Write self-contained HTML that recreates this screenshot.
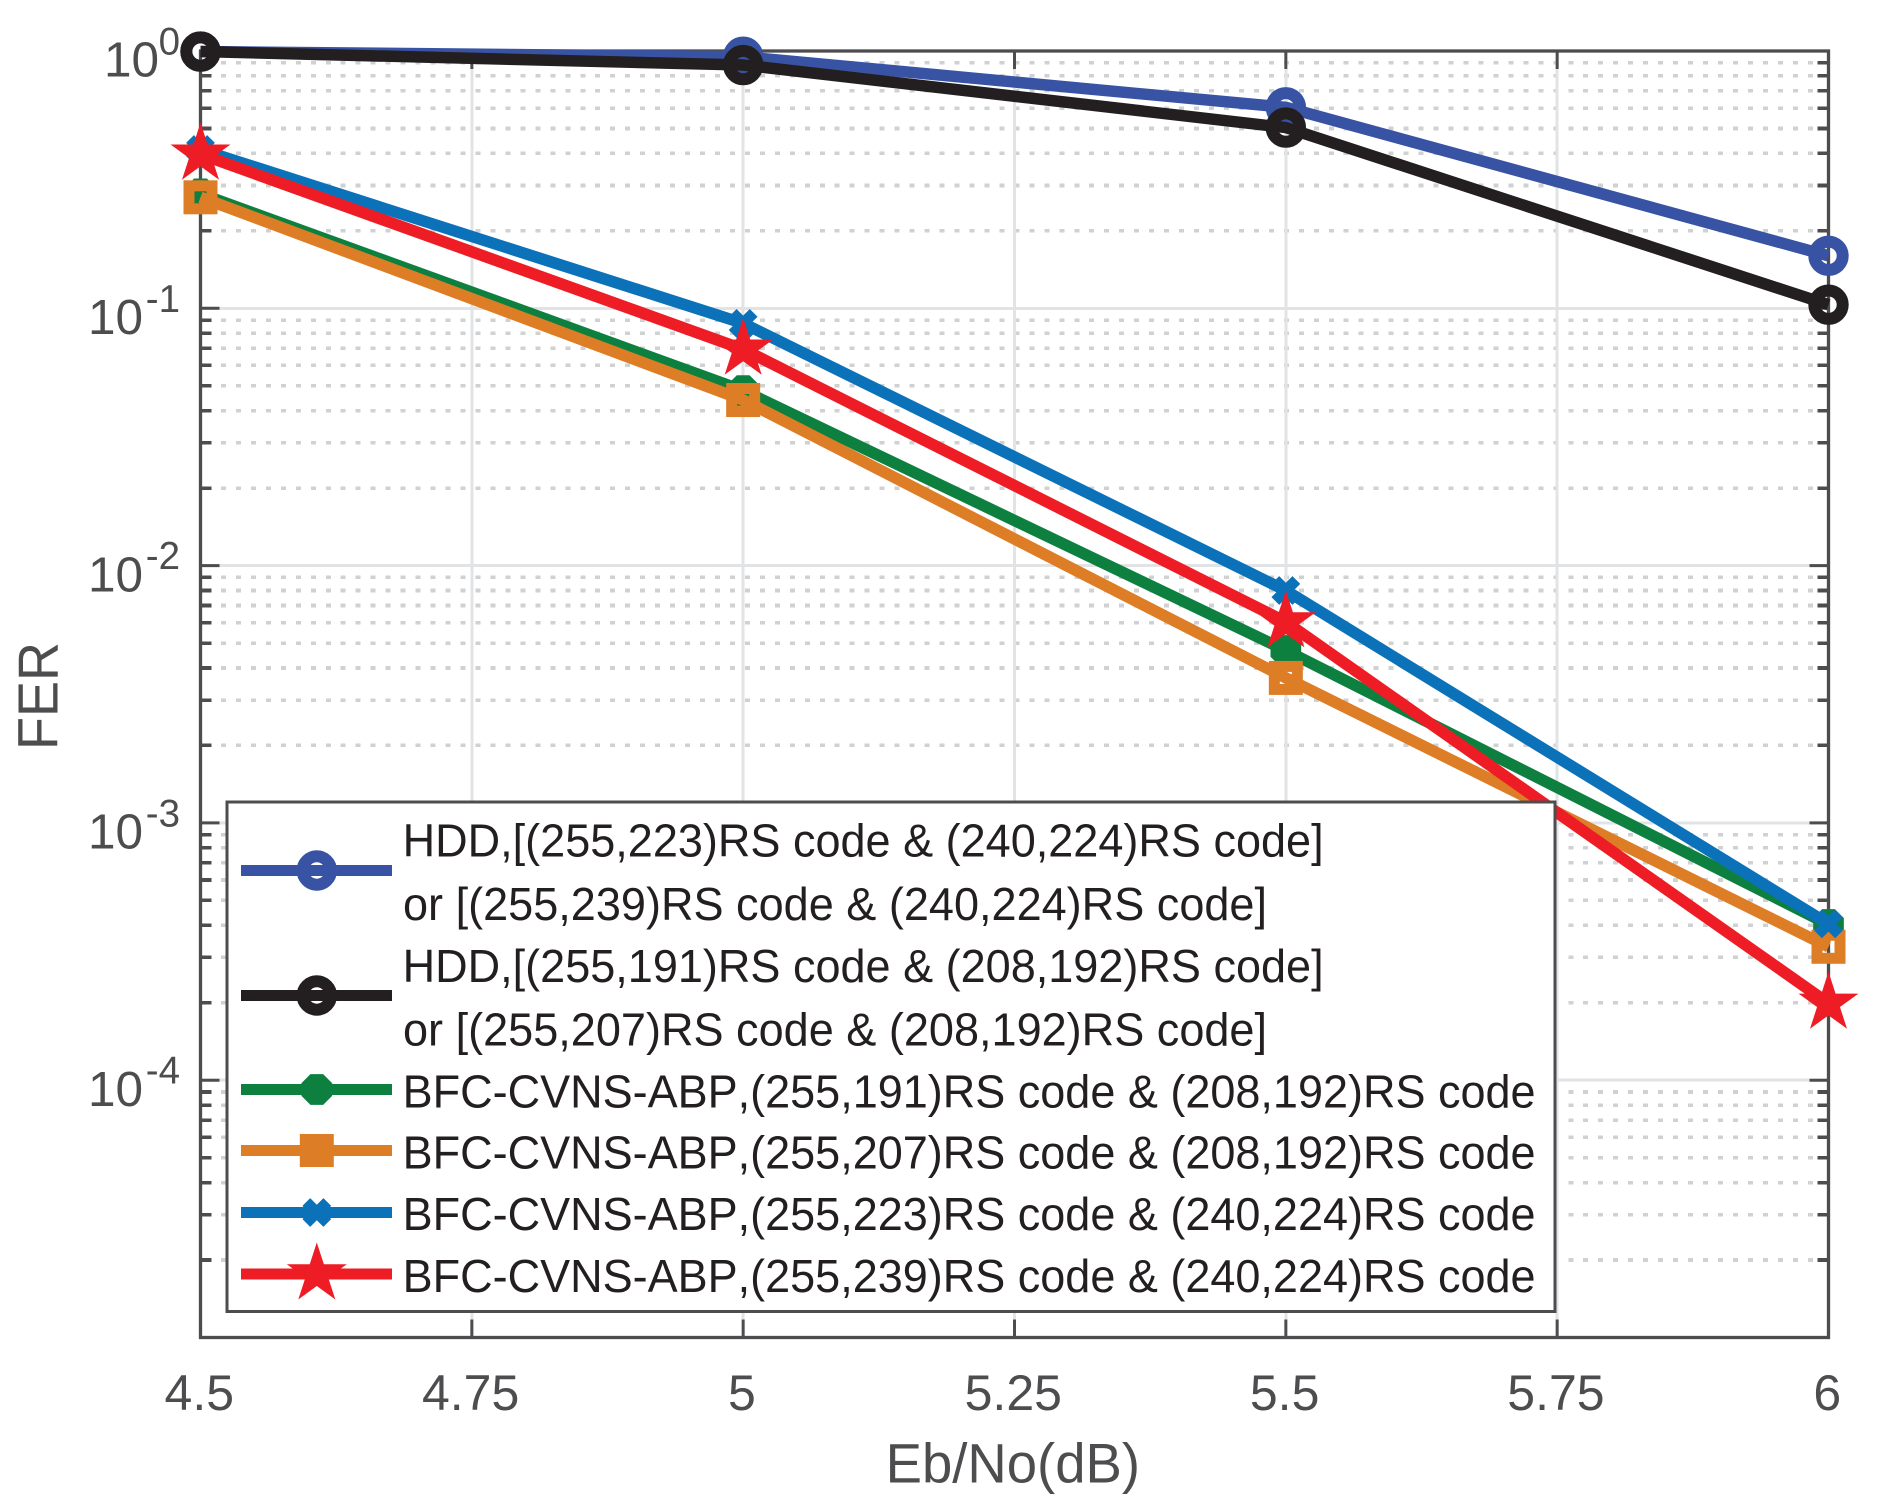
<!DOCTYPE html>
<html>
<head>
<meta charset="utf-8">
<title>FER vs Eb/No</title>
<style>
html,body{margin:0;padding:0;background:#fff;}
svg{display:block;}
text{font-family:"Liberation Sans",sans-serif;font-kerning:none;}
.tick-text{fill:#4d4d4f;}
.legend-text{fill:#231f20;font-size:46.5px;}
</style>
</head>
<body>
<svg id="chart" width="1879" height="1512" viewBox="0 0 1879 1512" xmlns="http://www.w3.org/2000/svg">
  <rect x="0" y="0" width="1879" height="1512" fill="#ffffff"/>
  <g id="grid" shape-rendering="crispEdges"></g>
  <g id="axes"></g>
  <g id="series"></g>
  <text class="tick-text" x="885.6" y="1482.3" font-size="56" textLength="254.4" lengthAdjust="spacingAndGlyphs">Eb/No(dB)</text>
  <text class="tick-text" transform="translate(57.3,750) rotate(-90)" font-size="57" textLength="108" lengthAdjust="spacingAndGlyphs">FER</text>

  <g id="legend">
    <rect x="227" y="802" width="1328" height="509.5" fill="#ffffff" stroke="#4d4d4f" stroke-width="3"/>
    <g class="legend-entry">
      <line x1="241" x2="392" y1="870.5" y2="870.5" stroke="#3953a4" stroke-width="11"/>
      <text class="legend-text" x="402.6" y="856.5" textLength="921" lengthAdjust="spacingAndGlyphs">HDD,[(255,223)RS code &amp; (240,224)RS code]</text>
      <text class="legend-text" x="403" y="920" textLength="864" lengthAdjust="spacingAndGlyphs">or [(255,239)RS code &amp; (240,224)RS code]</text>
    </g>
    <g class="legend-entry">
      <line x1="241" x2="392" y1="995.5" y2="995.5" stroke="#231f20" stroke-width="11"/>
      <text class="legend-text" x="402.6" y="981.8" textLength="921" lengthAdjust="spacingAndGlyphs">HDD,[(255,191)RS code &amp; (208,192)RS code]</text>
      <text class="legend-text" x="403" y="1045.6" textLength="864" lengthAdjust="spacingAndGlyphs">or [(255,207)RS code &amp; (208,192)RS code]</text>
    </g>
    <g class="legend-entry">
      <line x1="241" x2="392" y1="1089.5" y2="1089.5" stroke="#0d8040" stroke-width="11"/>
      <text class="legend-text" x="402.6" y="1107.4" textLength="1133" lengthAdjust="spacingAndGlyphs">BFC-CVNS-ABP,(255,191)RS code &amp; (208,192)RS code</text>
    </g>
    <g class="legend-entry">
      <line x1="241" x2="392" y1="1150.5" y2="1150.5" stroke="#dd7e26" stroke-width="11"/>
      <text class="legend-text" x="402.6" y="1168.5" textLength="1133" lengthAdjust="spacingAndGlyphs">BFC-CVNS-ABP,(255,207)RS code &amp; (208,192)RS code</text>
    </g>
    <g class="legend-entry">
      <line x1="241" x2="392" y1="1212.5" y2="1212.5" stroke="#0b72b9" stroke-width="11"/>
      <text class="legend-text" x="402.6" y="1230" textLength="1133" lengthAdjust="spacingAndGlyphs">BFC-CVNS-ABP,(255,223)RS code &amp; (240,224)RS code</text>
    </g>
    <g class="legend-entry">
      <line x1="241" x2="392" y1="1274" y2="1274" stroke="#ee1c25" stroke-width="11"/>
      <text class="legend-text" x="402.6" y="1292" textLength="1133" lengthAdjust="spacingAndGlyphs">BFC-CVNS-ABP,(255,239)RS code &amp; (240,224)RS code</text>
    </g>
  </g>
</svg>
<script>
const ebNo = [4.5, 5, 5.5, 6];
const hddSet223 = [0.995, 0.95, 0.604, 0.16];
const hddSet191 = [0.995, 0.882, 0.504, 0.1033];
const bfc191 = [0.2786, 0.0479, 0.00468, 0.000403];
const bfc207 = [0.27, 0.044, 0.00366, 0.00033];
const bfc223 = [0.414, 0.0874, 0.008, 0.000405];
const bfc239 = [0.397, 0.0693, 0.00604, 0.000199];
const xTickValues = [4.5, 4.75, 5, 5.25, 5.5, 5.75, 6];
const xTickLabels = ["4.5", "4.75", "5", "5.25", "5.5", "5.75", "6"];
const yDecades = [0, -1, -2, -3, -4, -5];
const yTickExponents = ["0", "-1", "-2", "-3", "-4"];
const yMinorFactors = [2, 3, 4, 5, 6, 7, 8, 9];

const NS = "http://www.w3.org/2000/svg";
const plotLeft = 200.5, plotRight = 1828.5, plotTop = 51, plotBottom = 1337.5;
const axisColor = "#4d4d4f";

function xScale(v) {
  return plotLeft + (v - 4.5) / 1.5 * (plotRight - plotLeft);
}
function yScale(v) {
  return plotTop + (0 - Math.log10(v)) / 5 * (plotBottom - plotTop);
}
function make(tag, attrs, parent) {
  const el = document.createElementNS(NS, tag);
  for (const k in attrs) el.setAttribute(k, attrs[k]);
  parent.appendChild(el);
  return el;
}

const gridG = document.getElementById("grid");
const axesG = document.getElementById("axes");
const seriesG = document.getElementById("series");

/* minor dotted grid and minor ticks */
yDecades.slice(1).forEach(function (d) {
  yMinorFactors.forEach(function (f) {
    const y = yScale(f * Math.pow(10, d));
    const dots = make("line", {x1: 206, x2: plotRight, y1: y, y2: y, stroke: "#d0d1d2", "stroke-width": 3.6, "stroke-dasharray": "5 9.97"}, gridG);
    
    
    const tl = make("line", {x1: plotLeft, x2: plotLeft + 11, y1: y, y2: y, stroke: axisColor, "stroke-width": 3.6, "shape-rendering": "crispEdges"}, axesG);
    
    
    const tr = make("line", {x1: plotRight - 11, x2: plotRight, y1: y, y2: y, stroke: axisColor, "stroke-width": 3.6, "shape-rendering": "crispEdges"}, axesG);
    
    
  });
});

/* major horizontal grid, ticks */
yDecades.forEach(function (d) {
  const y = yScale(Math.pow(10, d));
  const g = make("line", {x1: plotLeft, x2: plotRight, y1: y, y2: y, stroke: "#e2e3e4", "stroke-width": 3}, gridG);
  
  
  const tl = make("line", {x1: plotLeft, x2: plotLeft + 19, y1: y, y2: y, stroke: axisColor, "stroke-width": 3}, axesG);
  
  
  const tr = make("line", {x1: plotRight - 19, x2: plotRight, y1: y, y2: y, stroke: axisColor, "stroke-width": 3}, axesG);
  
  
});

/* vertical grid, ticks, labels */
xTickValues.forEach(function (v, i) {
  const x = xScale(v);
  const g = make("line", {x1: x, x2: x, y1: plotTop, y2: plotBottom, stroke: "#e2e3e4", "stroke-width": 3}, gridG);
  
  
  const tt = make("line", {x1: x, x2: x, y1: plotTop, y2: plotTop + 18, stroke: axisColor, "stroke-width": 3}, axesG);
  
  
  const tb = make("line", {x1: x, x2: x, y1: plotBottom - 18, y2: plotBottom, stroke: axisColor, "stroke-width": 3}, axesG);
  
  
  const lab = make("text", {x: x - 1.2, y: 1410, "font-size": 50, "text-anchor": "middle", "class": "tick-text"}, axesG);
  
  
  lab.textContent = xTickLabels[i];
});

/* y tick labels */
yTickExponents.forEach(function (exp, i) {
  const y = yScale(Math.pow(10, yDecades[i]));
  const base = make("text", {x: exp === "0" ? 159 : 143, y: y + 25.7, "font-size": 49.5, "text-anchor": "end", "class": "tick-text"}, axesG);
  
  
  base.textContent = "10";
  const sup = make("text", {x: 180, y: y + 3.5, "font-size": 38.5, "text-anchor": "end", "class": "tick-text"}, axesG);
  
  
  sup.textContent = exp;
});

/* axis box */
const box = make("rect", {x: plotLeft, y: plotTop, width: plotRight - plotLeft, height: plotBottom - plotTop, fill: "none", stroke: axisColor, "stroke-width": 3.3}, axesG);



function polar(cx, cy, r, deg) {
  const a = deg * Math.PI / 180;
  return (cx + r * Math.cos(a)).toFixed(2) + "," + (cy + r * Math.sin(a)).toFixed(2);
}

function drawMarker(kind, cx, cy, color, parent, solid) {
  let el;
  if (kind === "circle") {
    el = make("circle", {cx: cx, cy: cy, r: 14.2, fill: "none", stroke: color, "stroke-width": 12}, parent);
  } else if (kind === "octagon") {
    const pts = [];
    for (let k = 0; k < 8; k++) pts.push(polar(cx, cy, 16.6, 22.5 + 45 * k));
    el = make("polygon", {points: pts.join(" "), fill: color}, parent);
  } else if (kind === "square") {
    if (solid) {
      el = make("rect", {x: cx - 17, y: cy - 16.5, width: 34, height: 33, fill: color}, parent);
    } else {
      el = make("rect", {x: cx - 11.5, y: cy - 11.5, width: 23, height: 23, fill: "none", stroke: color, "stroke-width": 11}, parent);
    }
  } else if (kind === "cross") {
    const s = 10.5;
    el = make("path", {d: "M" + (cx - s) + " " + (cy - s) + "L" + (cx + s) + " " + (cy + s) + "M" + (cx - s) + " " + (cy + s) + "L" + (cx + s) + " " + (cy - s), fill: "none", stroke: color, "stroke-width": 11}, parent);
  } else {
    const pts = [];
    for (let k = 0; k < 10; k++) pts.push(polar(cx, cy, k % 2 === 0 ? 31.5 : 12.03, -90 + 36 * k));
    el = make("polygon", {points: pts.join(" "), fill: color}, parent);
  }
  
  
  return el;
}

function drawSeries(name, values, color, kind) {
  const g = make("g", {}, seriesG);
  
  
  const pts = values.map(function (v, i) {
    return xScale(ebNo[i]).toFixed(2) + "," + yScale(v).toFixed(2);
  }).join(" ");
  const line = make("polyline", {points: pts, fill: "none", stroke: color, "stroke-width": 11.5, "stroke-linejoin": "round"}, g);
  
  
  values.forEach(function (v, i) {
    drawMarker(kind, xScale(ebNo[i]), yScale(v), color, g, false);
  });
}

drawSeries("series-hdd-223-239", hddSet223, "#3953a4", "circle");
drawSeries("series-hdd-191-207", hddSet191, "#231f20", "circle");
drawSeries("series-bfc-191", bfc191, "#0d8040", "octagon");
drawSeries("series-bfc-207", bfc207, "#dd7e26", "square");
drawSeries("series-bfc-223", bfc223, "#0b72b9", "cross");
drawSeries("series-bfc-239", bfc239, "#ee1c25", "star");

/* legend markers */
const legendKinds = ["circle", "circle", "octagon", "square", "cross", "star"];
document.querySelectorAll(".legend-entry").forEach(function (entry, i) {
  const ln = entry.querySelector("line");
  const y = parseFloat(ln.getAttribute("y1"));
  drawMarker(legendKinds[i], 316.8, y, ln.getAttribute("stroke"), entry, true);
});
</script>
</body>
</html>
